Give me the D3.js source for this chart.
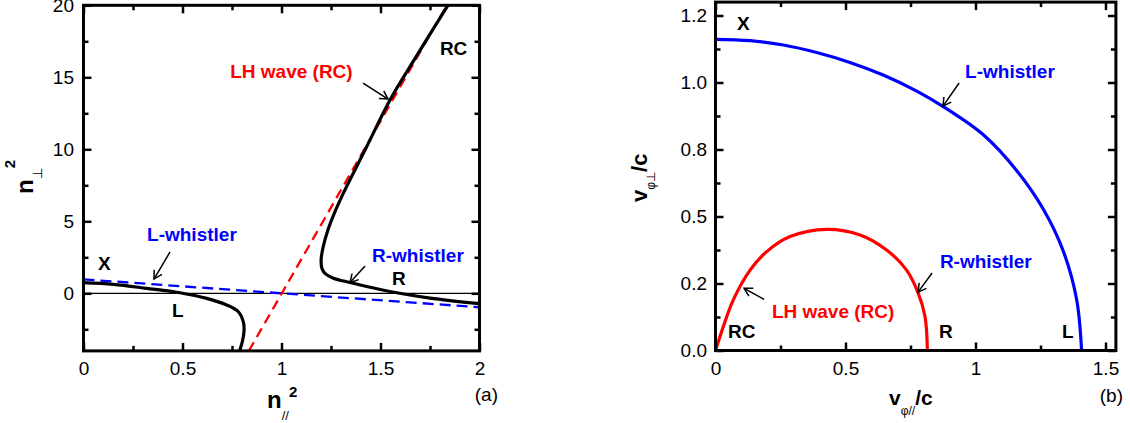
<!DOCTYPE html>
<html><head><meta charset="utf-8">
<script src="https://cdn.jsdelivr.net/npm/d3@7"></script>
<style>
html,body{margin:0;padding:0;background:#fff;}
svg{display:block;font-family:"Liberation Sans",Arial,Helvetica,sans-serif;}
</style></head>
<body><svg id="c" width="1130" height="423"></svg>
<script>
// ---------- Panel (a) data: n_par^2 vs n_perp^2 ----------
const aXTicks = [0, 0.5, 1, 1.5, 2];
const aXLabels = ["0", "0.5", "1", "1.5", "2"];
const aXMinor = [0.25, 0.75, 1.25, 1.75];
const aYTicks = [0, 5, 10, 15, 20];
const aYLabels = ["0", "5", "10", "15", "20"];
const aYMinor = [-2.5, 2.5, 7.5, 12.5, 17.5];

// black branch L (X -> L)
const aBranchL = [[0, 0.74], [0.151, 0.625], [0.319, 0.347], [0.487, 0.04], [0.622, -0.35],
  [0.723, -0.81], [0.782, -1.28], [0.807, -1.97], [0.811, -2.55], [0.804, -3.24], [0.787, -4.06]];
// black branch RC -> R
const aBranchR = [[1.845, 20.1], [1.649, 15.74], [1.548, 13.42], [1.43, 10.18], [1.312, 6.94],
  [1.265, 5.5], [1.232, 4.3], [1.21, 3.2], [1.2, 2.3], [1.205, 1.7], [1.224, 1.33], [1.262, 1.05],
  [1.346, 0.75], [1.43, 0.47], [1.582, 0.04], [1.75, -0.33], [2.0, -0.72]];
// red dashed asymptote (LH wave)
const aRedDash = [[0.835, -4], [1.835, 20]];
// blue dashed (whistler)
const aBlueDash = [[0, 0.97], [2, -0.97]];
// zero line
const aZero = [[0, 0], [2, 0]];

// ---------- Panel (b) data: v_phi_par/c vs v_phi_perp/c ----------
const bXTicks = [0, 0.5, 1, 1.5];
const bXLabels = ["0", "0.5", "1", "1.5"];
const bXMinor = [0.25, 0.75, 1.25];
const bYTicks = [0, 0.25, 0.5, 0.75, 1.0, 1.25];
const bYLabels = ["0.0", "0.2", "0.5", "0.8", "1.0", "1.2"];
const bYMinor = [0.125, 0.375, 0.625, 0.875, 1.125];

const bBlue = [[0, 1.161], [0.133, 1.156], [0.261, 1.14], [0.389, 1.112], [0.517, 1.075], [0.645, 1.028],
  [0.774, 0.968], [0.876, 0.91], [1.03, 0.805], [1.158, 0.672], [1.261, 0.527], [1.338, 0.37],
  [1.389, 0.19], [1.408, 0]];
const bRed = [[0, 0], [0.03, 0.089], [0.068, 0.188], [0.133, 0.3], [0.197, 0.369], [0.287, 0.425],
  [0.428, 0.452], [0.556, 0.431], [0.658, 0.375], [0.735, 0.3], [0.78, 0.213], [0.806, 0.126], [0.815, 0]];

// annotations (data coordinates)
const aTexts = [
  {t: "RC", x: 1.80, y: 16.55, c: "#000"},
  {t: "LH wave (RC)", x: 0.741, y: 14.95, c: "#ff0000"},
  {t: "L-whistler", x: 0.321, y: 3.63, c: "#0000ff"},
  {t: "X", x: 0.073, y: 1.62, c: "#000"},
  {t: "R-whistler", x: 1.457, y: 2.17, c: "#0000ff"},
  {t: "R", x: 1.558, y: 0.58, c: "#000"},
  {t: "L", x: 0.447, y: -1.65, c: "#000"}
];
const aArrows = [
  [[1.412, 14.6], [1.538, 13.49]],
  [[0.437, 2.87], [0.356, 0.99]],
  [[1.422, 1.90], [1.346, 0.75]]
];
const bTexts = [
  {t: "X", x: 0.083, y: 1.196, c: "#000"},
  {t: "L-whistler", x: 0.96, y: 1.017, c: "#0000ff"},
  {t: "R-whistler", x: 0.863, y: 0.308, c: "#0000ff"},
  {t: "R", x: 0.86, y: 0.047, c: "#000"},
  {t: "L", x: 1.333, y: 0.047, c: "#000"},
  {t: "LH wave (RC)", x: 0.217, y: 0.121, c: "#ff0000"},
  {t: "RC", x: 0.048, y: 0.047, c: "#000"}
];
const bArrows = [
  [[0.937, 0.998], [0.875, 0.912]],
  [[0.833, 0.289], [0.779, 0.218]],
  [[0.187, 0.191], [0.11, 0.232]]
];

// ---------- drawing ----------
const svg = d3.select("#c");
svg.append("rect").attr("width", 1130).attr("height", 423).attr("fill", "#fff");
const defs = svg.append("defs");
defs.append("marker").attr("id", "ah").attr("viewBox", "-10 -6 12 12")
  .attr("refX", 0).attr("refY", 0).attr("markerWidth", 12).attr("markerHeight", 12)
  .attr("markerUnits", "userSpaceOnUse").attr("orient", "auto")
  .append("path").attr("d", "M-8,-4.5L0,0L-8,4.5").attr("fill", "none")
  .attr("stroke", "#000").attr("stroke-width", 1.5);

const xA = d3.scaleLinear().domain([0, 2]).range([83.5, 479.5]);
const yA = d3.scaleLinear().domain([-4, 20]).range([350.9, 5.3]);
const xB = d3.scaleLinear().domain([0, 1.54]).range([715.5, 1115.9]);
const yB = d3.scaleLinear().domain([0, 1.3]).range([350.5, 2.1]);

function frame(x, y, xt, xl, xm, yt, yl, ym, id, xpad, ypad) {
  const g = svg.append("g");
  const [x0, x1] = x.range(), [y0, y1] = y.range();
  defs.append("clipPath").attr("id", id).append("rect")
    .attr("x", x0).attr("y", y1).attr("width", x1 - x0).attr("height", y0 - y1);
  const axes = [
    [d3.axisBottom(x), `translate(0,${y0})`, xt, xl, xm, xpad],
    [d3.axisTop(x), `translate(0,${y1})`, xt, null, xm, 0],
    [d3.axisLeft(y), `translate(${x0},0)`, yt, yl, ym, ypad],
    [d3.axisRight(y), `translate(${x1},0)`, yt, null, ym, 0]
  ];
  axes.forEach(([ax, tr, ticks, labels, minor, pad]) => {
    const a = g.append("g").attr("transform", tr)
      .call(ax.tickValues(ticks).tickSize(-8).tickPadding(pad)
        .tickFormat((d, i) => labels ? labels[i] : ""));
    const m = g.append("g").attr("transform", tr)
      .call(ax.tickValues(minor).tickSize(-5).tickFormat(""));
    [a, m].forEach(s => {
      s.select(".domain").remove();
      s.selectAll("line").attr("stroke", "#000").attr("stroke-width", 2.5);
      s.selectAll("text").attr("font-size", 19).attr("fill", "#000")
        .attr("font-family", "'Liberation Sans',Arial,sans-serif");
    });
  });
  return g;
}

const line = (x, y) => d3.line().x(d => x(d[0])).y(d => y(d[1]));
const smooth = (x, y) => d3.line().x(d => x(d[0])).y(d => y(d[1])).curve(d3.curveCatmullRom.alpha(0.5));

// Panel (a)
const pa = svg.append("g").attr("clip-path", "url(#clipA)");
frame(xA, yA, aXTicks, aXLabels, aXMinor, aYTicks, aYLabels, aYMinor, "clipA", 11, 9.5);
pa.append("path").attr("d", line(xA, yA)(aZero)).attr("stroke", "#000").attr("stroke-width", 1.2).attr("fill", "none");
pa.append("path").attr("d", line(xA, yA)(aBlueDash)).attr("stroke", "#0000ff").attr("stroke-width", 2.3)
  .attr("stroke-dasharray", "11,6").attr("fill", "none");
pa.append("path").attr("d", line(xA, yA)(aRedDash)).attr("stroke", "#ff0000").attr("stroke-width", 2.3)
  .attr("stroke-dasharray", "10,6").attr("fill", "none");
[aBranchL, aBranchR].forEach(b => pa.append("path").attr("d", smooth(xA, yA)(b))
  .attr("stroke", "#000").attr("stroke-width", 3.2).attr("fill", "none"));

// Panel (b)
const pb = svg.append("g").attr("clip-path", "url(#clipB)");
frame(xB, yB, bXTicks, bXLabels, bXMinor, bYTicks, bYLabels, bYMinor, "clipB", 11, 8.5);
pb.append("path").attr("d", smooth(xB, yB)(bBlue)).attr("stroke", "#0000ff").attr("stroke-width", 3.2).attr("fill", "none");
pb.append("path").attr("d", smooth(xB, yB)(bRed)).attr("stroke", "#ff0000").attr("stroke-width", 3.2).attr("fill", "none");

// frames
[[xA, yA], [xB, yB]].forEach(([x, y]) => {
  svg.append("rect").attr("x", x.range()[0]).attr("y", y.range()[1])
    .attr("width", x.range()[1] - x.range()[0]).attr("height", y.range()[0] - y.range()[1])
    .attr("fill", "none").attr("stroke", "#000").attr("stroke-width", 3);
});

// annotations
function annotate(texts, arrows, x, y) {
  texts.forEach(d => svg.append("text").attr("x", x(d.x)).attr("y", y(d.y)).text(d.t)
    .attr("font-size", 19).attr("font-weight", "bold").attr("fill", d.c));
  arrows.forEach(a => svg.append("line")
    .attr("x1", x(a[0][0])).attr("y1", y(a[0][1])).attr("x2", x(a[1][0])).attr("y2", y(a[1][1]))
    .attr("stroke", "#000").attr("stroke-width", 1.5).attr("marker-end", "url(#ah)"));
}
annotate(aTexts, aArrows, xA, yA);
annotate(bTexts, bArrows, xB, yB);

// axis titles
const tA = svg.append("text").attr("x", 267).attr("y", 408).attr("font-weight", "bold");
tA.append("tspan").attr("font-size", 24).text("n");
tA.append("tspan").attr("font-size", 13).attr("font-weight", "normal").attr("dy", 12).text("//");
tA.append("tspan").attr("font-size", 15).attr("dy", -23).attr("dx", 0).text("2");

const tAy = svg.append("text").attr("transform", "rotate(-90)").attr("x", -194).attr("y", 33).attr("font-weight", "bold");
tAy.append("tspan").attr("font-size", 24).text("n");
tAy.append("tspan").attr("font-size", 13).attr("font-weight", "normal").attr("dy", 9).text("\u22A5");
tAy.append("tspan").attr("font-size", 15).attr("dy", -27).attr("dx", 0).text("2");

const tB = svg.append("text").attr("x", 889).attr("y", 405).attr("font-weight", "bold");
tB.append("tspan").attr("font-size", 21).text("v");
tB.append("tspan").attr("font-size", 12).attr("font-weight", "normal").attr("dy", 10).text("\u03C6//");
tB.append("tspan").attr("font-size", 21).attr("dy", -10).text("/c");

const tBy = svg.append("text").attr("transform", "rotate(-90)").attr("x", -202).attr("y", 647).attr("font-weight", "bold");
tBy.append("tspan").attr("font-size", 22).text("v");
tBy.append("tspan").attr("font-size", 12).attr("font-weight", "normal").attr("dy", 8).text("\u03C6\u22A5");
tBy.append("tspan").attr("font-size", 22).attr("dy", -8).text("/c");

svg.append("text").attr("x", 498).attr("y", 401).attr("text-anchor", "end").attr("font-size", 19).text("(a)");
svg.append("text").attr("x", 1123).attr("y", 402).attr("text-anchor", "end").attr("font-size", 19).text("(b)");
</script></body></html>
